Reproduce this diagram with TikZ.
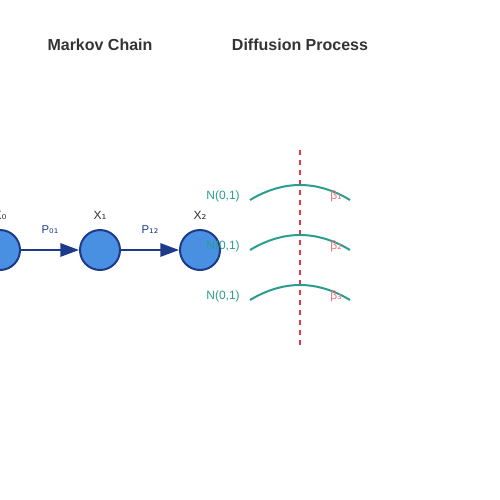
\documentclass[tikz,border=0pt]{standalone}
\usepackage{fontspec}
\setmainfont{Liberation Sans}
\newfontfamily\subfont{DejaVu Sans}
\usetikzlibrary{arrows.meta}
\definecolor{nodefill}{HTML}{4A90E2}
\definecolor{nodeline}{HTML}{1E3A8A}
\definecolor{noisecol}{HTML}{2A9D8F}
\definecolor{redline}{HTML}{E63946}
\definecolor{betacol}{HTML}{E8737C}
\definecolor{titlecol}{HTML}{333333}
\newcommand{\subtx}[1]{{\subfont #1}}
\begin{document}
\begin{tikzpicture}[x=0.75pt,y=-0.75pt,
  state/.style={circle,draw=nodeline,fill=nodefill,line width=1.5pt,minimum size=30pt,inner sep=0pt},
  title/.style={font=\bfseries\fontsize{12pt}{14pt}\selectfont,text=titlecol},
  xlabel/.style={font=\fontsize{9pt}{11pt}\selectfont,text=titlecol},
  plabel/.style={font=\fontsize{8.5pt}{10pt}\selectfont,text=nodeline},
  nlabel/.style={font=\fontsize{9pt}{11pt}\selectfont,text=noisecol,anchor=east,inner sep=0pt},
  blabel/.style={font=\fontsize{9pt}{11pt}\selectfont,text=betacol,anchor=west,inner sep=0pt},
  trans/.style={draw=nodeline,line width=1.5pt,-{Triangle[length=14pt,width=10pt]}},
  noise/.style={draw=noisecol,line width=1.5pt},
  cut/.style={draw=redline,line width=1.5pt,dash pattern=on 3.75pt off 3.75pt}]
\useasboundingbox (0,0) rectangle (500,500);
\node[title] (t1) at (100,45) {Markov Chain};
\node[title] (t2) at (300,45) {Diffusion Process};
\node[state] (x0) at (0,250) {};
\node[state] (x1) at (100,250) {};
\node[state] (x2) at (200,250) {};
\node[xlabel] (l0) at (0,215) {X\subtx{₀}};
\node[xlabel] (l1) at (100,215) {X\subtx{₁}};
\node[xlabel] (l2) at (200,215) {X\subtx{₂}};
\draw[trans] (x0) -- (x1);
\draw[trans] (x1) -- (x2);
\node[plabel] (p1) at (50,230) {P\subtx{₀₁}};
\node[plabel] (p2) at (150,230) {P\subtx{₁₂}};
\coordinate (ctop) at (300,150);
\coordinate (cbot) at (300,345);
\draw[cut] (ctop) -- (cbot);
\foreach \y/\k in {200/1,250/2,300/3}{
  \coordinate (a\k) at (250,\y);
  \coordinate (b\k) at (350,\y);
  \coordinate (c\k) at (283.33,\y-20);
  \coordinate (d\k) at (316.67,\y-20);
  \draw[noise] (a\k) .. controls (c\k) and (d\k) .. (b\k);
  \node[nlabel] (n\k) at (240,\y-4) {N(0,1)};
  \node[blabel] (be\k) at (330,\y-4) {β\subtx{\ifcase\k\or ₁\or ₂\or ₃\fi}};
}
\end{tikzpicture}
\end{document}
